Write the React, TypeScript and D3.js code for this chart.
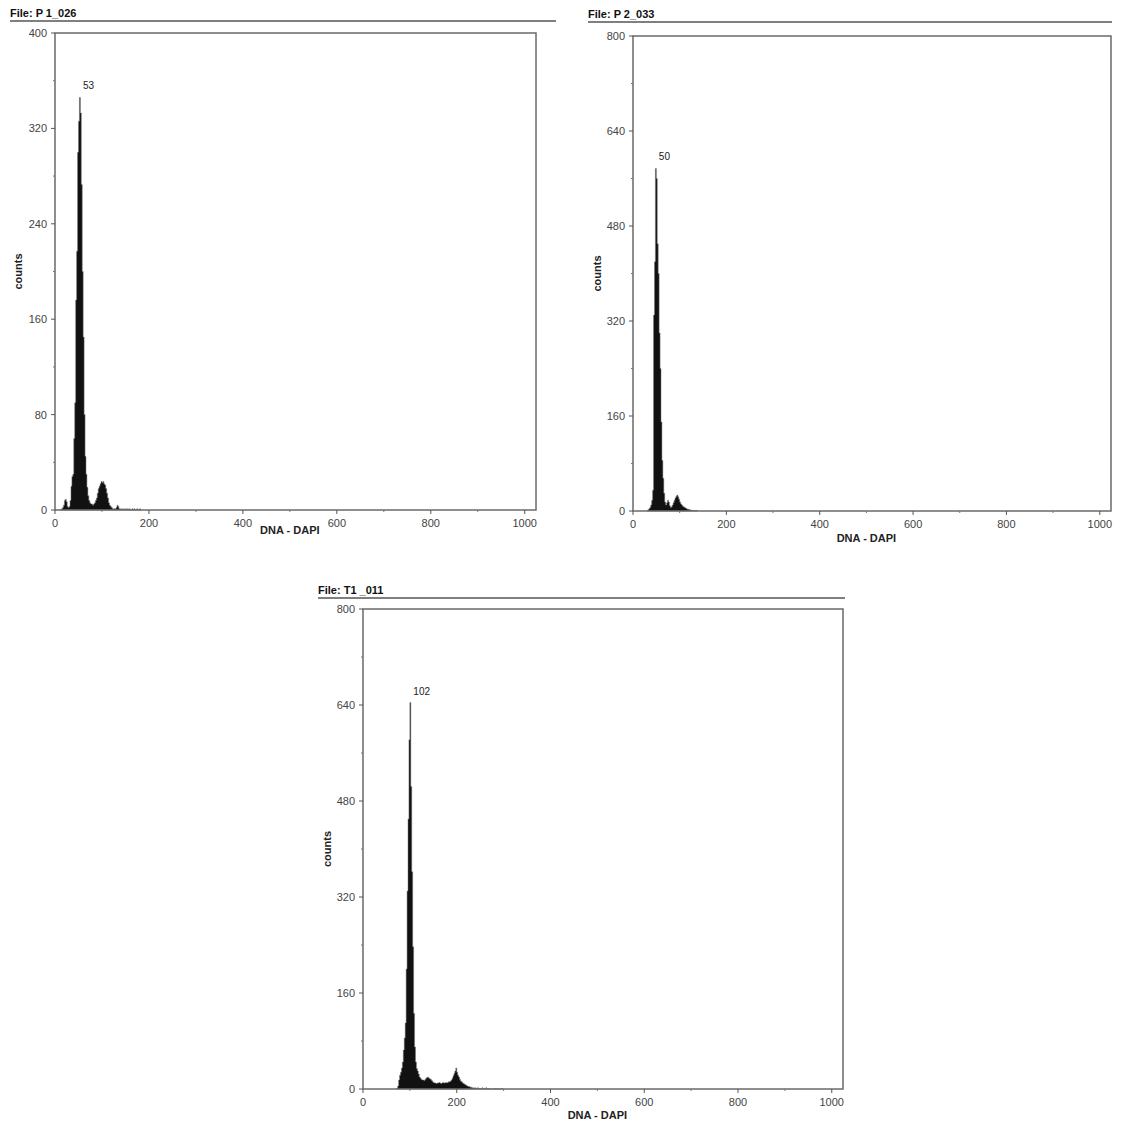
import * as d3 from "d3";

// DNA content histograms (DAPI), counts per 2-channel bin
const binWidth = 2;

const p1Start = 10;
const p1Counts = [
  0, 0, 1, 2, 4, 8, 9, 7, 3, 2, 3, 8, 20, 28, 30, 60, 90, 176, 217, 300,
  326, 346, 333, 273, 200, 145, 80, 45, 30, 19, 12, 8, 6, 5, 5, 4, 5, 6, 8, 10,
  14, 18, 20, 22, 24, 23, 24, 22, 21, 18, 14, 10, 6, 4, 3, 2, 1, 1, 1, 1,
  2, 4, 3, 1, 1, 0, 1, 0, 1, 0, 1, 0, 1, 0, 1, 0, 0, 1, 0, 1,
  0, 0, 1, 0, 0, 1,
];

const p2Start = 30;
const p2Counts = [
  1, 2, 4, 6, 10, 18, 35, 330, 420, 577, 560, 450, 400, 300, 240, 150, 85, 55, 30, 15,
  10, 14, 18, 15, 9, 6, 7, 10, 14, 18, 22, 25, 27, 24, 20, 15, 12, 10, 8, 7,
  6, 5, 4, 3, 3, 2, 2, 1, 1, 1, 0, 1, 0, 1,
];

const t1Start = 70;
const t1Counts = [
  0, 1, 5, 15, 23, 28, 35, 45, 65, 85, 110, 200, 330, 450, 582, 644, 504, 362, 237, 126,
  70, 45, 34, 30, 25, 20, 18, 16, 15, 15, 14, 16, 18, 19, 20, 18, 17, 16, 14, 12,
  11, 10, 10, 9, 10, 10, 11, 10, 9, 10, 11, 10, 10, 11, 10, 11, 12, 12, 13, 15,
  18, 22, 26, 30, 35, 28, 23, 20, 16, 13, 12, 10, 9, 8, 7, 6, 5, 4, 4, 3,
  3, 2, 2, 1, 2, 1, 1, 2, 1, 0, 1, 0, 2, 0, 1, 0, 2, 0, 0, 1,
  0, 0, 0, 0, 0, 0, 1, 0, 0, 0, 0, 0, 0, 1,
];

const fileNames = ["P 1_026", "P 2_033", "T1 _011"];
const peakLabels = ["53", "50", "102"];
const yMaxes = [400, 800, 800];
const xTicks = [0, 200, 400, 600, 800, 1000];
const xMinorTicks = [100, 300, 500, 700, 900];
const yTicksSmall = [0, 80, 160, 240, 320, 400];
const yTicksLarge = [0, 160, 320, 480, 640, 800];

const FONT = "'Liberation Sans', Arial, sans-serif";

type PanelProps = {
  title: string;
  peak: string;
  start: number;
  counts: number[];
  yMax: number;
  yTicks: number[];
  titleX: number;
  titleY: number;
  ruleEnd: number;
  left: number;
  top: number;
  right: number;
  bottom: number;
  xLabelY: number;
  xTickY: number;
  yLabelX: number;
};

function Panel(p: PanelProps) {
  const x = d3.scaleLinear().domain([0, 1024]).range([p.left, p.right]);
  const y = d3.scaleLinear().domain([0, p.yMax]).range([p.bottom, p.top]);

  const pts: [number, number][] = p.counts.map((c, i) => [p.start + i * binWidth, c]);
  pts.push([p.start + p.counts.length * binWidth, 0]);
  const area = d3
    .area<[number, number]>()
    .x((d) => x(d[0]))
    .y0(y(0))
    .y1((d) => y(d[1]))
    .curve(d3.curveStepAfter);

  const maxI = d3.maxIndex(p.counts);
  const peakX = x(p.start + maxI * binWidth + binWidth / 2);
  const peakY = y(p.counts[maxI]);

  const yStep = p.yTicks[1] - p.yTicks[0];
  const yMinor = p.yTicks.slice(0, -1).map((t) => t + yStep / 2);

  return (
    <g>
      <text x={p.titleX} y={p.titleY} fontFamily={FONT} fontSize={11} fontWeight="bold" fill="#111">
        File: {p.title}
      </text>
      <line x1={p.titleX} x2={p.ruleEnd} y1={p.titleY + 4} y2={p.titleY + 4} stroke="#555" strokeWidth={1.5} />

      <path d={area(pts) ?? ""} fill="#111" stroke="#777" strokeWidth={0.5} />

      <rect
        x={p.left}
        y={p.top}
        width={p.right - p.left}
        height={p.bottom - p.top}
        fill="none"
        stroke="#6a6a6a"
        strokeWidth={1.5}
      />

      {p.yTicks.map((t) => (
        <g key={"y" + t}>
          <line x1={p.left - 4} x2={p.left} y1={y(t)} y2={y(t)} stroke="#555" />
          <text
            x={p.left - 8}
            y={y(t) + 4}
            textAnchor="end"
            fontFamily={FONT}
            fontSize={11}
            fill="#444"
          >
            {t}
          </text>
        </g>
      ))}
      {yMinor.map((t) => (
        <line key={"ym" + t} x1={p.left - 2} x2={p.left} y1={y(t)} y2={y(t)} stroke="#777" />
      ))}

      {xTicks.map((t) => (
        <g key={"x" + t}>
          <line x1={x(t)} x2={x(t)} y1={p.bottom} y2={p.bottom + 4} stroke="#555" />
          <text x={x(t)} y={p.xTickY} textAnchor="middle" fontFamily={FONT} fontSize={11} fill="#444">
            {t}
          </text>
        </g>
      ))}
      {xMinorTicks.map((t) => (
        <line key={"xm" + t} x1={x(t)} x2={x(t)} y1={p.bottom} y2={p.bottom + 2} stroke="#777" />
      ))}

      <text
        x={x(500)}
        y={p.xLabelY}
        textAnchor="middle"
        fontFamily={FONT}
        fontSize={11}
        fontWeight="bold"
        fill="#222"
      >
        DNA  - DAPI
      </text>
      <text
        transform={`translate(${p.yLabelX},${(p.top + p.bottom) / 2}) rotate(-90)`}
        textAnchor="middle"
        fontFamily={FONT}
        fontSize={11}
        fontWeight="bold"
        fill="#222"
      >
        counts
      </text>

      <text x={peakX + 3} y={peakY - 8} fontFamily={FONT} fontSize={10} fill="#222">
        {p.peak}
      </text>
    </g>
  );
}

export default function App() {
  return (
    <svg
      width={1123}
      height={1126}
      style={{ position: "absolute", left: 0, top: 0, background: "#fff" }}
    >
      <Panel
        title={fileNames[0]}
        peak={peakLabels[0]}
        start={p1Start}
        counts={p1Counts}
        yMax={yMaxes[0]}
        yTicks={yTicksSmall}
        titleX={10}
        titleY={17}
        ruleEnd={556}
        left={55}
        top={33}
        right={536}
        bottom={510}
        xTickY={527}
        xLabelY={534}
        yLabelX={22}
      />
      <Panel
        title={fileNames[1]}
        peak={peakLabels[1]}
        start={p2Start}
        counts={p2Counts}
        yMax={yMaxes[1]}
        yTicks={yTicksLarge}
        titleX={588}
        titleY={18}
        ruleEnd={1112}
        left={633}
        top={36}
        right={1111}
        bottom={511}
        xTickY={528}
        xLabelY={542}
        yLabelX={601}
      />
      <Panel
        title={fileNames[2]}
        peak={peakLabels[2]}
        start={t1Start}
        counts={t1Counts}
        yMax={yMaxes[2]}
        yTicks={yTicksLarge}
        titleX={318}
        titleY={594}
        ruleEnd={845}
        left={363}
        top={609}
        right={843}
        bottom={1089}
        xTickY={1106}
        xLabelY={1119}
        yLabelX={331}
      />
    </svg>
  );
}
